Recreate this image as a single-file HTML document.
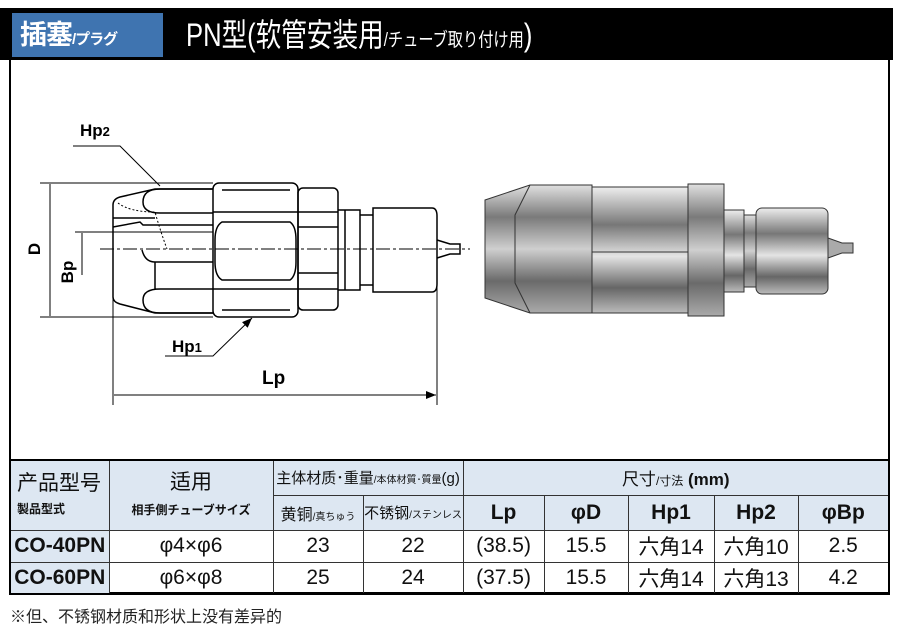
<!DOCTYPE html>
<html><head><meta charset="utf-8"><style>
body{margin:0;width:900px;height:614px;background:#fff;overflow:hidden;position:relative;font-family:"Liberation Sans","Noto Sans CJK JP",sans-serif}
.bar{position:absolute;left:0;top:8px;width:893px;height:52px;background:#000}
.blue{position:absolute;left:12px;top:13px;width:151px;height:44px;background:#3f74b0;color:#fff;font-weight:bold;font-size:27px;line-height:44px;padding-left:8px;box-sizing:border-box;letter-spacing:-1px}
.blue small{font-size:15px;font-weight:bold}
.title{position:absolute;left:186px;top:13px;color:#fff;font-size:32px;line-height:44px;transform:scaleX(.8);transform-origin:left;white-space:nowrap}
.title small{font-size:19px}
.frame{position:absolute;left:9px;top:60px;width:881px;height:534px;border:2px solid #000;border-top:none;box-sizing:border-box}
table{position:absolute;left:9px;top:459px;width:881px;border-collapse:collapse;border:2px solid #000;table-layout:fixed}
td{border:1px solid #333;text-align:center;padding:0;font-size:21px;color:#111;overflow:hidden;white-space:nowrap}
.h{background:#dde7f2}
.b{font-weight:bold}
.foot{position:absolute;left:10px;top:603px;font-size:16px;color:#222}
</style></head><body>
<div class="bar"></div>
<div class="blue">插塞<small>/プラグ</small></div>
<div class="title">PN型(软管安装用<small>/チューブ取り付け用</small>)</div>
<div class="frame"></div>
<svg style="position:absolute;left:0;top:0" width="900" height="460" viewBox="0 0 900 460">
<defs>
<marker id="a" markerWidth="10" markerHeight="8" refX="10" refY="4" orient="auto" markerUnits="userSpaceOnUse"><path d="M0,0L10,4L0,8z" fill="#000"/></marker>
<linearGradient id="g" x1="0" y1="0" x2="0" y2="1"><stop offset="0" stop-color="#e0e0e0"/><stop offset=".25" stop-color="#7a7a7a"/><stop offset=".5" stop-color="#cfcfcf"/><stop offset=".75" stop-color="#6a6a6a"/><stop offset="1" stop-color="#aaa"/></linearGradient>
<linearGradient id="g2" x1="0" y1="0" x2="0" y2="1"><stop offset="0" stop-color="#eee"/><stop offset=".3" stop-color="#777"/><stop offset=".55" stop-color="#e4e4e4"/><stop offset=".8" stop-color="#666"/><stop offset="1" stop-color="#bbb"/></linearGradient>
</defs>
<g fill="none" stroke="#000" stroke-width="1.5">
<path d="M113,205 Q113,199 120,197 L155,189 L213,189 M113,205 L113,297 Q113,302 120,304 L155,313 L213,313"/>
<path d="M213,189 L160,189 Q143,189 143,202 Q143,213 160,213 L213,213 M213,313 L160,313 Q143,313 143,300 Q143,289 160,289 L213,289 M213,262 L155,262 L155,289 M155,262 Q145,262 142,250"/>
<path d="M113,218 L155,218 M113,227 L140,222 L143,225 L213,225" />
<path d="M118,203 Q130,212 155,212 Q160,230 167,249" stroke-dasharray="2,2" stroke-width="1"/>
<rect x="213" y="183" width="85" height="134" rx="6"/>
<path d="M213,212 L298,212 M213,289 L298,289 M222,190 L290,190 M222,310 L290,310"/>
<path d="M222,222 Q215,226 215,240 L215,262 Q215,276 222,280 L290,280 Q296,276 296,262 L296,240 Q296,226 290,222 Z"/>
<rect x="298" y="188" width="40" height="122" rx="5"/>
<path d="M298,212 L338,212 M298,289 L338,289 M298,227 L338,227 M298,273 L338,273"/>
<path d="M338,210 L360,210 L360,290 L338,290 M345,210 L345,290 M360,215 L373,215 L373,285 L360,285 M373,208 L432,208 Q437,208 437,216 L437,284 Q437,292 432,292 L373,292 Z"/>
<path d="M437,240 L450,244 L460,244 L460,254 L450,254 L437,258"/>
<path d="M100,249 L470,249" stroke-width="1" stroke-dasharray="14,3,3,3"/>
<path d="M40,183 L213,183 M40,317 L213,317 M75,232 L213,232 M113,297 L113,405 M437,258 L437,405" stroke-width="1"/>
<path d="M50,249 L50,184 M50,249 L50,316 M82,275 L82,233 M275,395 L114,395 M275,395 L436,395" stroke-width="1" marker-end="url(#a)"/>
<path d="M73,146 L120,146 L160,186 M165,356 L213,356 L252,318" stroke-width="1" marker-end="url(#a)"/>
</g>
<g font-weight="bold" font-size="17" fill="#000" font-family="Liberation Sans,sans-serif">
<text x="80" y="136">Hp<tspan font-size="13">2</tspan></text>
<text x="172" y="352">Hp<tspan font-size="13">1</tspan></text>
<text x="262" y="384" font-size="19">Lp</text>
<text transform="translate(40,249) rotate(-90)" text-anchor="middle">D</text>
<text transform="translate(73,272) rotate(-90)" text-anchor="middle">Bp</text>
</g>
<g stroke="#333" stroke-width="1">
<path d="M485,200 L530,185 L592,185 L592,313 L530,313 L485,298 Z" fill="url(#g)"/>
<path d="M530,185 L515,215 L515,283 L530,313" fill="none"/>
<rect x="592" y="187" width="96" height="126" fill="url(#g2)"/>
<path d="M592,252 L688,252" />
<rect x="688" y="184" width="36" height="132" fill="url(#g)"/>
<rect x="724" y="210" width="20" height="82" fill="url(#g2)"/>
<rect x="744" y="215" width="12" height="72" fill="url(#g)"/>
<rect x="756" y="208" width="72" height="86" rx="6" fill="url(#g2)"/>
<path d="M828,238 L842,243 L853,243 L853,253 L842,253 L828,258 Z" fill="#aaa"/>
</g>
</svg>
<table>
<colgroup><col style="width:99px"><col style="width:164px"><col style="width:90px"><col style="width:100px"><col style="width:81px"><col style="width:84px"><col style="width:86px"><col style="width:84px"><col></colgroup>
<tr style="height:35px"><td class="h" rowspan="2" style="text-align:left;padding-left:6px;line-height:1.1">产品型号<br><span style="font-size:12px;font-weight:bold">製品型式</span></td>
<td class="h" rowspan="2" style="line-height:1.2">适用<br><span style="font-size:12px;font-weight:bold">相手側チューブサイズ</span></td>
<td class="h" colspan="2" style="font-size:15px">主体材质･重量<span style="font-size:10px">/本体材質･質量</span>(g)</td>
<td class="h" colspan="5" style="font-size:17px">尺寸<span style="font-size:12px">/寸法</span> <b>(mm)</b></td></tr>
<tr style="height:35px"><td class="h" style="font-size:16px">黄铜<span style="font-size:10px">/真ちゅう</span></td>
<td class="h" style="font-size:15px">不锈钢<span style="font-size:10px">/ステンレス</span></td>
<td class="h b">Lp</td><td class="h b">φD</td><td class="h b">Hp1</td><td class="h b">Hp2</td><td class="h b">φBp</td></tr>
<tr style="height:32px"><td class="h b">CO-40PN</td><td>φ4×φ6</td><td>23</td><td>22</td><td>(38.5)</td><td>15.5</td><td>六角14</td><td>六角10</td><td>2.5</td></tr>
<tr style="height:32px"><td class="h b">CO-60PN</td><td>φ6×φ8</td><td>25</td><td>24</td><td>(37.5)</td><td>15.5</td><td>六角14</td><td>六角13</td><td>4.2</td></tr>
</table>
<div class="foot">※但、不锈钢材质和形状上没有差异的</div>
</body></html>
